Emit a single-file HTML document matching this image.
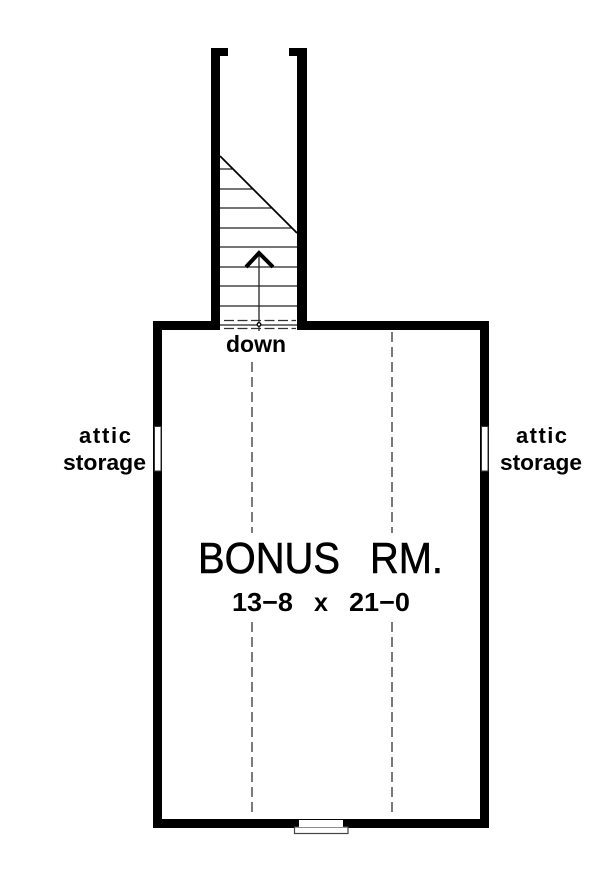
<!DOCTYPE html>
<html><head><meta charset="utf-8"><style>
html,body{margin:0;padding:0;background:#fff}
svg{display:block}
text{font-family:"Liberation Sans",sans-serif;fill:#000}
</style></head><body>
<svg width="600" height="876" viewBox="0 0 600 876" xmlns="http://www.w3.org/2000/svg">
<rect width="600" height="876" fill="#fff"/>
<!-- dashed ridge lines -->
<g stroke="#333" stroke-width="1.3" stroke-dasharray="10 5" fill="none">
<path d="M252 362V533M252 622V815M392 332V533M392 622V815"/>
</g>
<!-- stairs -->
<g stroke="#222" stroke-width="1.3" fill="none">
<path d="M220 169H232M220 189H252M220 208H272M220 228H292M220 247H297M220 267H297M220 286H297M220 306H297M220 325H297"/>
<path d="M259 252V331"/>
<circle cx="259" cy="324.5" r="1.8" fill="#fff" stroke="#000"/>
</g>
<path d="M220 156L297 233" stroke="#000" stroke-width="1.8" fill="none"/>
<path d="M246 267L259 253L273 267" stroke="#000" stroke-width="4" fill="none"/>
<path d="M224 320.5H296M224 328.5H296" stroke="#333" stroke-width="1.3" stroke-dasharray="10 3.5" fill="none"/>
<!-- walls -->
<g fill="#000">
<rect x="211" y="48" width="9" height="282"/>
<rect x="211" y="48" width="17" height="8"/>
<rect x="297" y="48" width="10" height="282"/>
<rect x="289" y="48" width="18" height="8"/>
<rect x="153" y="321" width="67" height="9"/>
<rect x="297" y="321" width="192" height="9"/>
<rect x="153" y="321" width="9" height="507"/>
<rect x="480" y="321" width="9" height="507"/>
<rect x="153" y="819" width="336" height="9"/>
</g>
<!-- windows -->
<rect x="154.5" y="426.5" width="6.5" height="44.5" fill="#fff" stroke="#333"/>
<rect x="481.5" y="426.5" width="6.5" height="44.5" fill="#fff" stroke="#333"/>
<rect x="294.5" y="827" width="53.5" height="6.5" fill="#fff" stroke="#444" stroke-width="1.2"/>
<rect x="299" y="820" width="44" height="7" fill="#fff"/>
<!-- labels -->
<text x="226" y="352" font-size="23" font-weight="700" textLength="60" lengthAdjust="spacingAndGlyphs">down</text>
<text x="79" y="443" font-size="22" font-weight="700" textLength="52" lengthAdjust="spacing">attic</text>
<text x="63" y="470" font-size="22" font-weight="700" textLength="83" lengthAdjust="spacingAndGlyphs">storage</text>
<text x="516" y="443" font-size="22" font-weight="700" textLength="51" lengthAdjust="spacing">attic</text>
<text x="500" y="470" font-size="22" font-weight="700" textLength="82" lengthAdjust="spacingAndGlyphs">storage</text>
<text x="198" y="573" font-size="43.5" textLength="142" lengthAdjust="spacingAndGlyphs" stroke="#000" stroke-width=".6">BONUS</text>
<text x="370" y="573" font-size="43.5" textLength="73" lengthAdjust="spacingAndGlyphs" stroke="#000" stroke-width=".6">RM.</text>
<text x="232" y="611" font-size="26" font-weight="700" textLength="61" lengthAdjust="spacingAndGlyphs">13−8</text>
<text x="314" y="611" font-size="26" font-weight="700" textLength="14" lengthAdjust="spacingAndGlyphs">x</text>
<text x="349" y="611" font-size="26" font-weight="700" textLength="61" lengthAdjust="spacingAndGlyphs">21−0</text>
</svg>
</body></html>
